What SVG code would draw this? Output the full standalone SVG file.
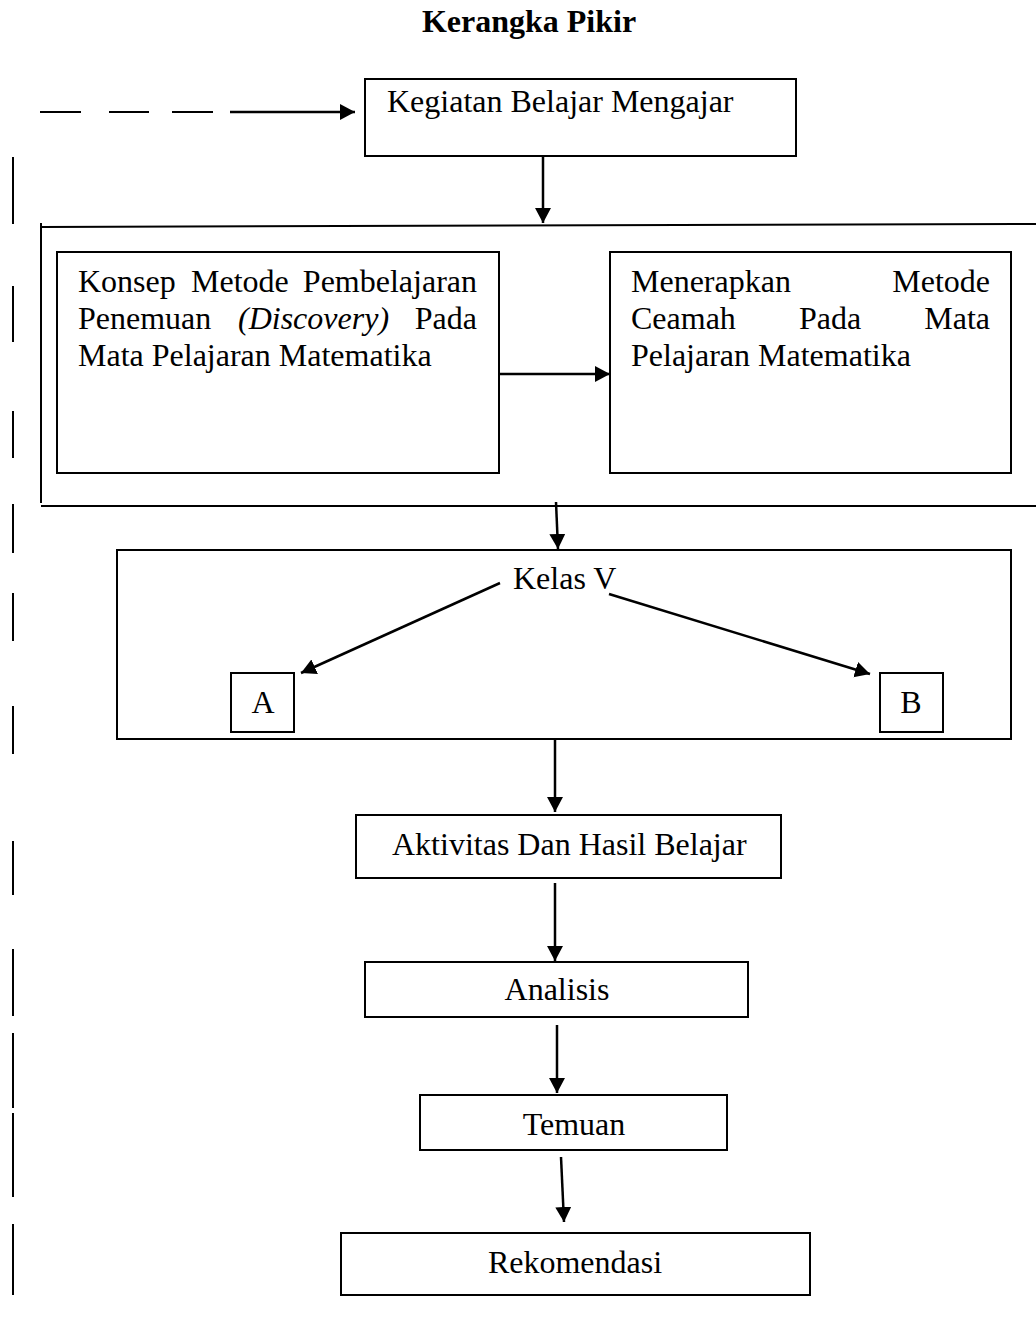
<svg xmlns="http://www.w3.org/2000/svg" width="1036" height="1325" viewBox="0 0 1036 1325">
<style>
text{font-family:"Liberation Serif","Times New Roman",serif;font-size:32px;fill:#000}
.title{font-weight:bold}
.box{fill:#fff;stroke:#000;stroke-width:2}
.ln{fill:none;stroke:#000;stroke-width:2}
.arr{fill:none;stroke:#000;stroke-width:2.5;marker-end:url(#ah)}
.dash{fill:none;stroke:#000;stroke-width:2}
.mid{text-anchor:middle}
.end{text-anchor:end}
</style>
<defs>
<marker id="ah" markerUnits="userSpaceOnUse" markerWidth="18" markerHeight="18" refX="15" refY="8" orient="auto">
<path d="M0,0 L15,8 L0,16 z" fill="#000"/>
</marker>
</defs>
<rect width="1036" height="1325" fill="#fff"/>
<text class="title mid" x="529" y="32">Kerangka Pikir</text>

<g id="feedback">
<path class="dash" d="M40,112 H81 M109,112 H149 M172,112 H213"/>
<path class="dash" d="M13,157 V224 M13,286 V342 M13,411 V458 M13,504 V553 M13,593 V641 M13,706 V754 M13,841 V895 M13,949 V1016 M13,1033 V1108 M13,1113 V1197 M13,1224 V1295"/>
</g>

<g id="frame">
<path class="ln" d="M41,223 V503"/>
<path class="ln" d="M41,227 L1036,224"/>
<path class="ln" d="M41,506 H1036"/>
</g>

<g id="kegiatan">
<rect class="box" x="365" y="79" width="431" height="77"/>
<text x="387" y="112">Kegiatan Belajar Mengajar</text>
</g>

<g id="konsep">
<rect class="box" x="57" y="252" width="442" height="221"/>
<text x="78" y="292">Konsep</text>
<text x="191" y="292">Metode</text>
<text class="end" x="477" y="292">Pembelajaran</text>
<text x="78" y="329">Penemuan</text>
<text x="238" y="329" font-style="italic">(Discovery)</text>
<text class="end" x="477" y="329">Pada</text>
<text x="78" y="366">Mata Pelajaran Matematika</text>
</g>

<g id="menerapkan">
<rect class="box" x="610" y="252" width="401" height="221"/>
<text x="631" y="292">Menerapkan</text>
<text class="end" x="990" y="292">Metode</text>
<text x="631" y="329">Ceamah</text>
<text x="799" y="329">Pada</text>
<text class="end" x="990" y="329">Mata</text>
<text x="631" y="366">Pelajaran Matematika</text>
</g>

<g id="kelas">
<rect class="box" x="117" y="550" width="894" height="189"/>
<text x="513" y="589">Kelas V</text>
</g>

<g id="kelasA">
<rect class="box" x="231" y="673" width="63" height="59"/>
<text class="mid" x="263" y="713">A</text>
</g>

<g id="kelasB">
<rect class="box" x="880" y="673" width="63" height="59"/>
<text class="mid" x="911" y="713">B</text>
</g>

<g id="aktivitas">
<rect class="box" x="356" y="815" width="425" height="63"/>
<text x="392" y="855">Aktivitas Dan Hasil Belajar</text>
</g>

<g id="analisis">
<rect class="box" x="365" y="962" width="383" height="55"/>
<text class="mid" x="557" y="1000">Analisis</text>
</g>

<g id="temuan">
<rect class="box" x="420" y="1095" width="307" height="55"/>
<text class="mid" x="574" y="1135">Temuan</text>
</g>

<g id="rekomendasi">
<rect class="box" x="341" y="1233" width="469" height="62"/>
<text class="mid" x="575" y="1273">Rekomendasi</text>
</g>

<g id="connectors">
<line class="arr" x1="230" y1="112" x2="355" y2="112"/>
<line class="arr" x1="543" y1="157" x2="543" y2="223"/>
<line class="arr" x1="499" y1="374" x2="610" y2="374"/>
<line class="arr" x1="556" y1="502" x2="558" y2="549"/>
<line class="arr" x1="500" y1="583" x2="301" y2="673"/>
<line class="arr" x1="609" y1="594" x2="870" y2="674"/>
<line class="arr" x1="555" y1="740" x2="555" y2="812"/>
<line class="arr" x1="555" y1="883" x2="555" y2="961"/>
<line class="arr" x1="557" y1="1025" x2="557" y2="1093"/>
<line class="arr" x1="561" y1="1157" x2="564" y2="1222"/>
</g>
</svg>
